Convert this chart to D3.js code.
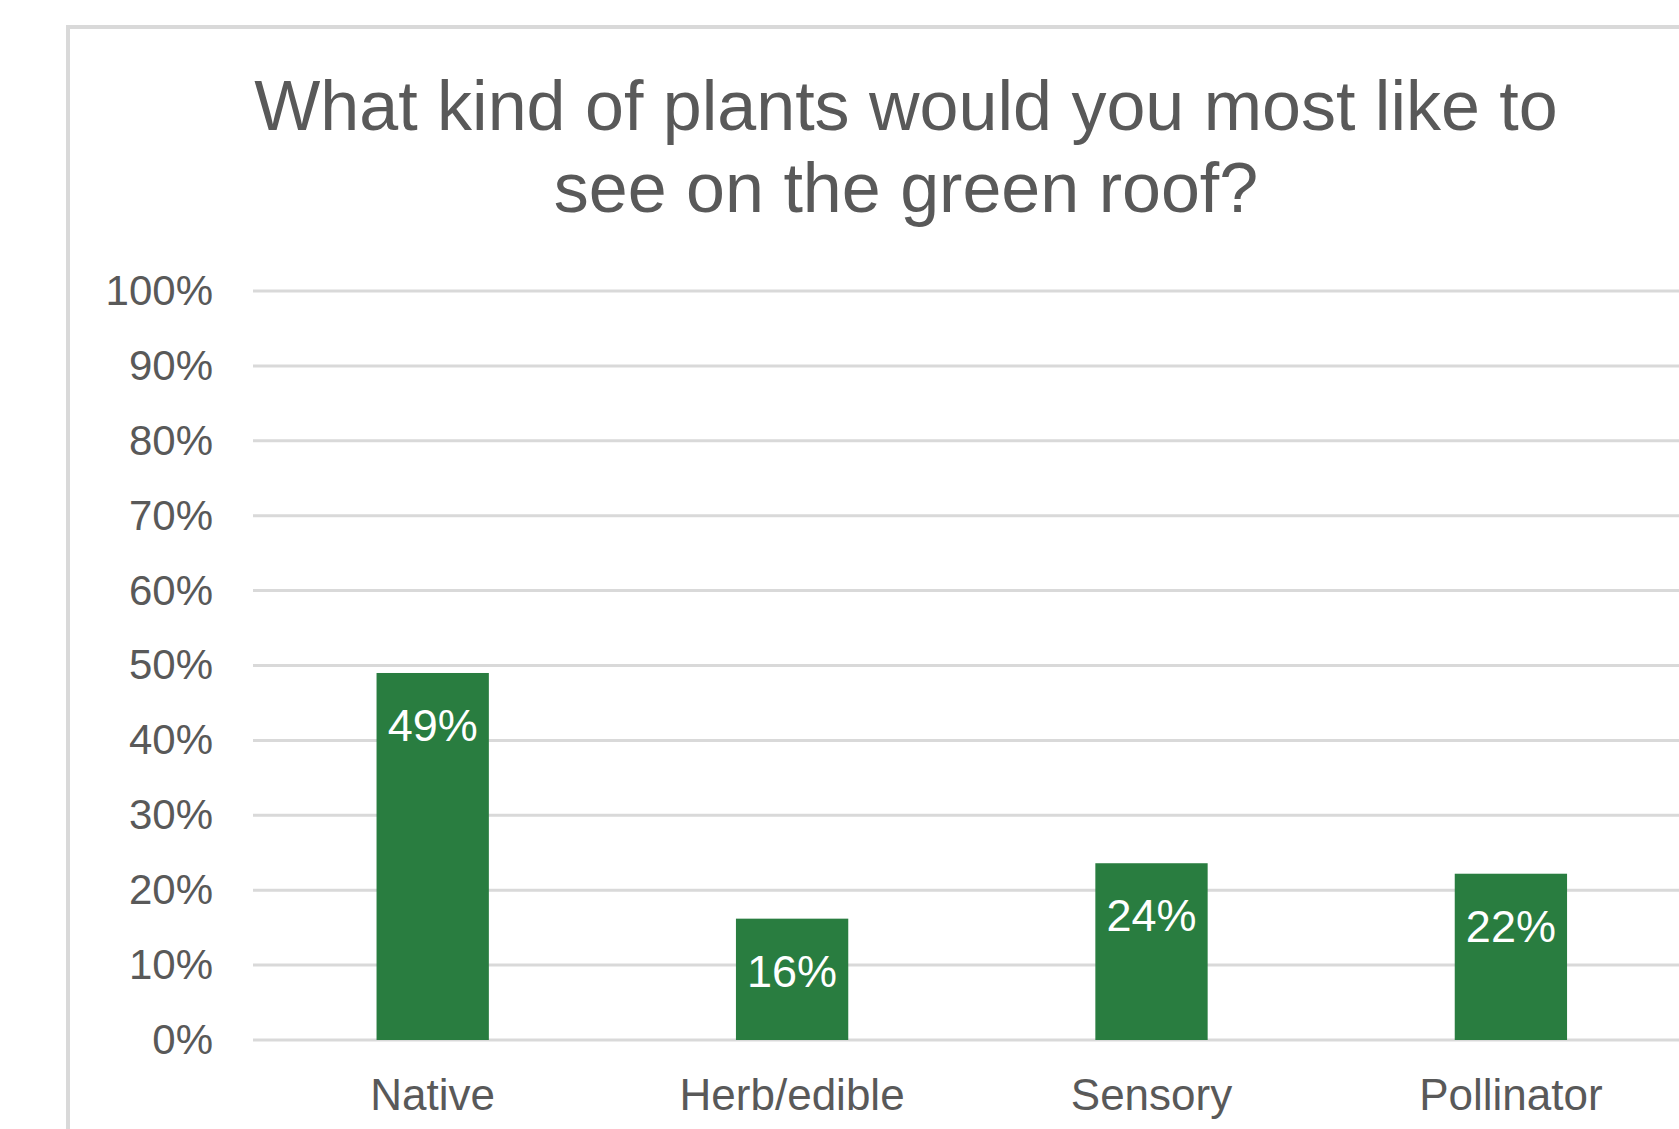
<!DOCTYPE html>
<html>
<head>
<meta charset="utf-8">
<script src="https://d3js.org/d3.v7.min.js"></script>
<style>
    body { margin: 0; background: #ffffff; }
    svg { display: block; font-family: "Liberation Sans", Arial, sans-serif; }
</style>
</head>
<body>
<div id="chart"></div>
<script>
// chart data
let categories = ["Native", "Herb/edible", "Sensory", "Pollinator"];
let shares = [0.49, 0.162, 0.236, 0.222];
let yTicks = [0, 0.1, 0.2, 0.3, 0.4, 0.5, 0.6, 0.7, 0.8, 0.9, 1.0];
let titleLines = ["What kind of plants would you most like to", "see on the green roof?"];

function init() {
    let width = 1679;
    let height = 1129;
    let margin = {"left": 253, "top": 291, "bottom": 1040};
    let step = 359.4;

    let svg = d3.select("#chart").append("svg")
        .attr("width", width)
        .attr("height", height);

    // chart area border (runs past the right and bottom edges)
    svg.append("rect")
        .attr("x", 68)
        .attr("y", 27)
        .attr("width", 1700)
        .attr("height", 1200)
        .attr("fill", "#ffffff")
        .attr("stroke", "#d9d9d9")
        .attr("stroke-width", 4);

    // Title
    svg.selectAll(".title")
        .data(titleLines)
        .join("text")
        .attr("class", "title")
        .attr("x", 906)
        .attr("y", (d, i) => 130 + i * 82)
        .attr("text-anchor", "middle")
        .attr("fill", "#595959")
        .style("font-size", "70px")
        .text(d => d);

    let x = d3.scaleBand()
        .domain(categories)
        .range([margin.left, margin.left + step * categories.length])
        .paddingInner(0.6875)
        .paddingOuter(0.34375);

    let y = d3.scaleLinear()
        .domain([0, 1])
        .range([margin.bottom, margin.top]);

    // gridlines
    svg.selectAll(".grid")
        .data(yTicks)
        .join("line")
        .attr("class", "grid")
        .attr("x1", margin.left)
        .attr("x2", x.range()[1])
        .attr("y1", d => y(d))
        .attr("y2", d => y(d))
        .attr("stroke", "#d9d9d9")
        .attr("stroke-width", 3);

    // y axis labels
    let yAxis = d3.axisLeft(y)
        .tickValues(yTicks)
        .tickFormat(d3.format(".0%"))
        .tickSize(0)
        .tickPadding(0);
    let gy = svg.append("g")
        .attr("transform", "translate(213,0)")
        .call(yAxis);
    gy.select(".domain").remove();
    gy.selectAll("text")
        .attr("fill", "#595959")
        .style("font-size", "42px")
        .style("font-family", "Liberation Sans, Arial, sans-serif");

    // bars
    svg.selectAll(".bar")
        .data(shares)
        .join("rect")
        .attr("class", "bar")
        .attr("x", (d, i) => x(categories[i]))
        .attr("y", d => y(d))
        .attr("width", x.bandwidth())
        .attr("height", d => y(0) - y(d))
        .attr("fill", "#297d40");

    // value labels inside the bars
    svg.selectAll(".value")
        .data(shares)
        .join("text")
        .attr("class", "value")
        .attr("x", (d, i) => x(categories[i]) + x.bandwidth() / 2)
        .attr("y", d => y(d) + 68)
        .attr("text-anchor", "middle")
        .attr("fill", "#ffffff")
        .style("font-size", "45px")
        .text(d => d3.format(".0%")(d));

    // x axis labels
    let xAxis = d3.axisBottom(x).tickSize(0).tickPadding(0);
    let gx = svg.append("g")
        .attr("transform", "translate(0," + margin.bottom + ")")
        .call(xAxis);
    gx.select(".domain").remove();
    gx.selectAll("text")
        .attr("y", 70)
        .attr("dy", 0)
        .attr("fill", "#595959")
        .style("font-size", "44px")
        .style("font-family", "Liberation Sans, Arial, sans-serif");
}
window.onload = init;
</script>
</body>
</html>
